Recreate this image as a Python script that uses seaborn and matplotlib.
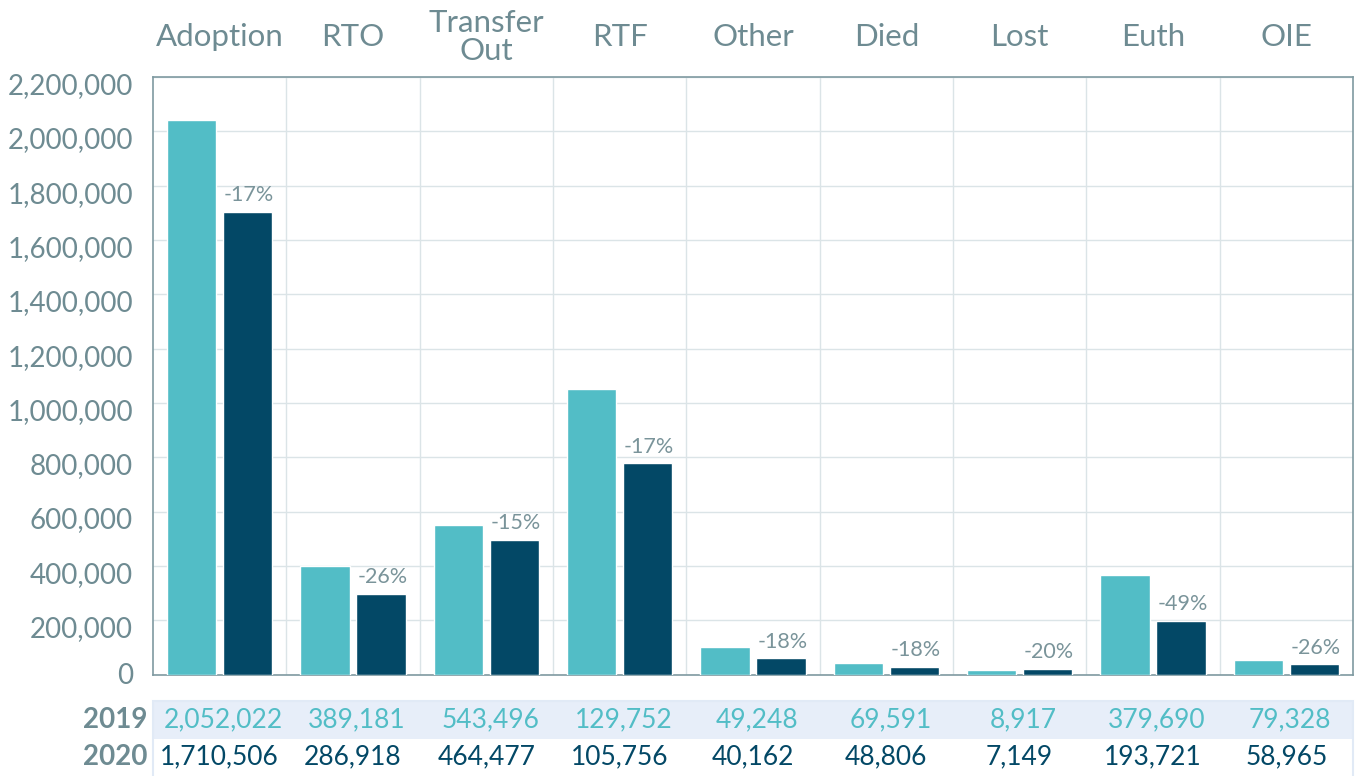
import numpy as np
import pandas as pd
import seaborn as sns
import matplotlib
matplotlib.use("Agg")
import matplotlib.pyplot as plt
from matplotlib.patches import Rectangle
from matplotlib.transforms import blended_transform_factory, ScaledTranslation

# ---- data ----
categories = ["Adoption", "RTO", "Transfer\nOut", "RTF", "Other", "Died", "Lost", "Euth", "OIE"]
bars_2019 = [2042000, 398000, 552000, 1050000, 103000, 44000, 16000, 368000, 52000]
bars_2020 = [1703000, 295000, 497000, 777000, 59000, 26000, 20000, 196000, 37000]
pct_labels = ["-17%", "-26%", "-15%", "-17%", "-18%", "-18%", "-20%", "-49%", "-26%"]
table_2019 = ["2,052,022", "389,181", "543,496", "129,752", "49,248", "69,591", "8,917", "379,690", "79,328"]
table_2020 = ["1,710,506", "286,918", "464,477", "105,756", "40,162", "48,806", "7,149", "193,721", "58,965"]
years = ["2019", "2020"]
y_ticks = list(range(0, 2200001, 200000))

C19 = "#52bdc6"
C20 = "#034866"
GRAY = "#6e8b92"
GRID = "#dbe4e7"
SPINE = "#7f9aa1"

sns.set_theme(style="white")
plt.rcParams["font.family"] = ["Lato", "DejaVu Sans"]

df = pd.DataFrame({
    "category": categories * 2,
    "year": [years[0]] * len(categories) + [years[1]] * len(categories),
    "value": bars_2019 + bars_2020,
})

W, H = 1356, 776
fig = plt.figure(figsize=(W / 100, H / 100), dpi=100)
ax = fig.add_axes([153 / W, (H - 674.5) / H, 1200 / W, 597.5 / H])

sns.barplot(data=df, x="category", y="value", hue="year", order=categories,
            hue_order=years, palette=[C19, C20], width=0.84, gap=0.12,
            saturation=1, legend=False, ax=ax, zorder=3)

ax.set_xlim(-0.5, len(categories) - 0.5)
ax.set_ylim(0, 2200000)
ax.set_yticks(y_ticks)
ax.set_xticks(np.arange(0.5, len(categories) - 1, 1), minor=True)
ax.set_xticks(range(len(categories)))
ax.tick_params(axis="x", which="both", length=0, labelbottom=False, labeltop=False)
ax.tick_params(axis="y", length=0, labelleft=False)
ax.set_xlabel("")
ax.set_ylabel("")
ax.grid(axis="y", which="major", color=GRID, linewidth=1, zorder=0)
ax.grid(axis="x", which="minor", color=GRID, linewidth=1, zorder=0)
ax.set_axisbelow(True)
for s in ax.spines.values():
    s.set_visible(True)
    s.set_color(SPINE)
    s.set_linewidth(1.2)

# y tick labels (sitting slightly below their gridlines, as in the original)
ytr = blended_transform_factory(fig.transFigure, ax.transData)
for v in y_ticks:
    dy = -1.5 if v == 0 else -9
    off = ScaledTranslation(0, dy / 100, fig.dpi_scale_trans)
    ax.text(133 / W, v, f"{v:,}", transform=ytr + off, ha="right", va="center",
            fontsize=20, color=GRAY)

# category labels on top
tr = blended_transform_factory(ax.transData, fig.transFigure)
for i, c in enumerate(categories):
    ax.text(i, (H - 37) / H, c, transform=tr, ha="center", va="center",
            fontsize=22.5, color=GRAY, linespacing=1.0)

# percent labels above 2020 bars
for i, (v, p) in enumerate(zip(bars_2020, pct_labels)):
    ax.annotate(p, (i + 0.21, v), xytext=(1, 5), textcoords="offset points",
                ha="center", va="bottom", fontsize=15.5, color="#7a949a", zorder=4)

# table below
band = Rectangle((153 / W, (H - 739) / H), 1200 / W, 38 / H, transform=fig.transFigure,
                 facecolor="#e7eef9", edgecolor="none", zorder=-2)
fig.patches.append(band)
box = Rectangle((153 / W, -0.01), 1200 / W, (H - 701) / H + 0.01, transform=fig.transFigure,
                facecolor="none", edgecolor="#e1eaf6", linewidth=1.5, zorder=-1)
fig.patches.append(box)
y19 = (H - 720) / H
y20 = (H - 757) / H
fig.text(147 / W, y19, years[0], ha="right", va="center", fontsize=20,
         fontweight="bold", color=GRAY)
fig.text(147 / W, y20, years[1], ha="right", va="center", fontsize=20,
         fontweight="bold", color=GRAY)
for i in range(len(categories)):
    t1 = fig.text(0, y19, table_2019[i], ha="center", va="center",
                  fontsize=19, color=C19)
    t1.set_transform(tr)
    t1.set_x(i + 0.03)
    t2 = fig.text(0, y20, table_2020[i], ha="center", va="center",
                  fontsize=19, color=C20)
    t2.set_transform(tr)
    t2.set_x(i)

fig.savefig("out.png", dpi=100)
